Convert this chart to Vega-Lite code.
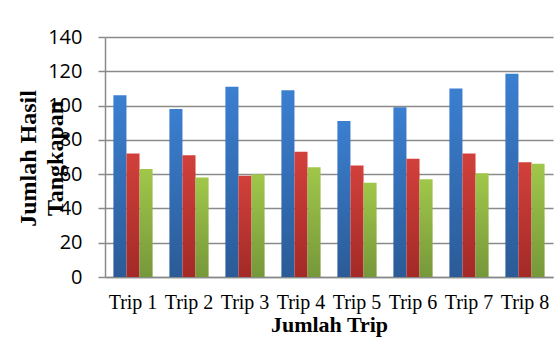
{
  "$schema": "https://vega.github.io/schema/vega-lite/v6.json",
  "width": 448,
  "height": 240,
  "autosize": "none",
  "padding": {"left": 105, "top": 37, "right": 1, "bottom": 67},
  "background": "white",
  "config": {"view": {"stroke": null}},
  "data": {
    "values": [
      {"trip": "Trip 1", "series": "A", "value": 106},
      {"trip": "Trip 1", "series": "B", "value": 72},
      {"trip": "Trip 1", "series": "C", "value": 63},
      {"trip": "Trip 2", "series": "A", "value": 98},
      {"trip": "Trip 2", "series": "B", "value": 71},
      {"trip": "Trip 2", "series": "C", "value": 58},
      {"trip": "Trip 3", "series": "A", "value": 111},
      {"trip": "Trip 3", "series": "B", "value": 59},
      {"trip": "Trip 3", "series": "C", "value": 60},
      {"trip": "Trip 4", "series": "A", "value": 109},
      {"trip": "Trip 4", "series": "B", "value": 73},
      {"trip": "Trip 4", "series": "C", "value": 64},
      {"trip": "Trip 5", "series": "A", "value": 91},
      {"trip": "Trip 5", "series": "B", "value": 65},
      {"trip": "Trip 5", "series": "C", "value": 55},
      {"trip": "Trip 6", "series": "A", "value": 99},
      {"trip": "Trip 6", "series": "B", "value": 69},
      {"trip": "Trip 6", "series": "C", "value": 57},
      {"trip": "Trip 7", "series": "A", "value": 110},
      {"trip": "Trip 7", "series": "B", "value": 72},
      {"trip": "Trip 7", "series": "C", "value": 60.5},
      {"trip": "Trip 8", "series": "A", "value": 118.5},
      {"trip": "Trip 8", "series": "B", "value": 67},
      {"trip": "Trip 8", "series": "C", "value": 66}
    ]
  },
  "encoding": {
    "x": {
      "field": "trip",
      "type": "nominal",
      "scale": {"paddingInner": 0.3, "paddingOuter": 0.15},
      "axis": {
        "labelAngle": 0,
        "ticks": false,
        "domainColor": "#8a8a8a",
        "domainWidth": 1.5,
        "labelFont": "Liberation Serif",
        "labelFontSize": 20,
        "labelColor": "#000000",
        "labelPadding": 15,
        "labelOverlap": false,
        "title": "Jumlah Trip",
        "titleFont": "Liberation Serif",
        "titleFontSize": 22,
        "titleFontWeight": "bold",
        "titleColor": "#000000",
        "titlePadding": 2
      }
    },
    "xOffset": {"field": "series", "type": "nominal", "scale": {"domain": ["A", "B", "C"], "paddingInner": 0, "paddingOuter": 0}},
    "y": {
      "field": "value",
      "type": "quantitative",
      "scale": {"domain": [0, 140], "nice": false},
      "axis": {
        "values": [0, 20, 40, 60, 80, 100, 120, 140],
        "grid": true,
        "gridColor": "#8a8a8a",
        "gridWidth": 1.5,
        "domainColor": "#8a8a8a",
        "domainWidth": 1.5,
        "tickColor": "#8a8a8a",
        "tickWidth": 1.5,
        "tickSize": 7,
        "labelFont": "Open Sans",
        "labelFontSize": 20,
        "labelColor": "#000000",
        "labelPadding": 16,
        "title": ["Jumlah Hasil", "Tangkapan"],
        "titleFont": "Liberation Serif",
        "titleFontSize": 24,
        "titleFontWeight": "bold",
        "titleColor": "#000000",
        "titleAngle": -90,
        "titleAlign": "center",
        "titleBaseline": "middle",
        "titleLineHeight": 27,
        "titleX": -77,
        "titleY": 121
      }
    }
  },
  "layer": [
    {
      "transform": [{"filter": "datum.series === 'A'"}],
      "mark": {"type": "bar", "fill": {"gradient": "linear", "x1": 0, "y1": 0, "x2": 0, "y2": 1, "stops": [{"offset": 0, "color": "#3b7fd0"}, {"offset": 1, "color": "#2b5b97"}]}}
    },
    {
      "transform": [{"filter": "datum.series === 'B'"}],
      "mark": {"type": "bar", "fill": {"gradient": "linear", "x1": 0, "y1": 0, "x2": 0, "y2": 1, "stops": [{"offset": 0, "color": "#d2403b"}, {"offset": 1, "color": "#a32a27"}]}}
    },
    {
      "transform": [{"filter": "datum.series === 'C'"}],
      "mark": {"type": "bar", "fill": {"gradient": "linear", "x1": 0, "y1": 0, "x2": 0, "y2": 1, "stops": [{"offset": 0, "color": "#a0c74a"}, {"offset": 1, "color": "#76983a"}]}}
    }
  ]
}
